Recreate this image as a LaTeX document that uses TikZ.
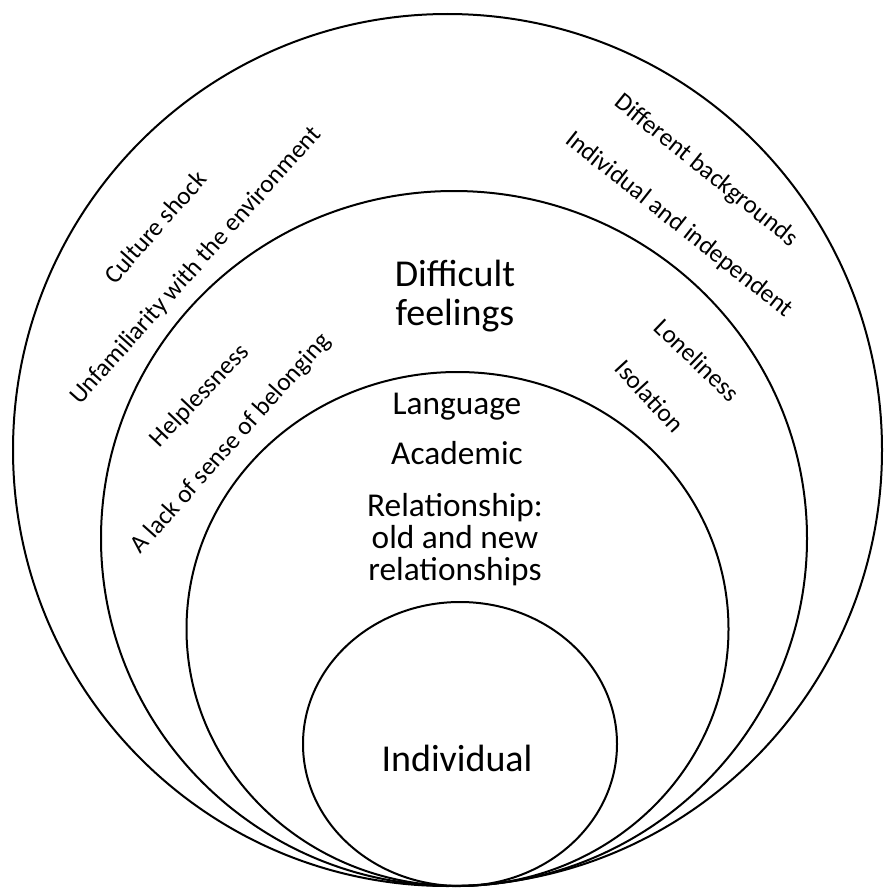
\documentclass[tikz,border=0pt]{standalone}
\usepackage{fontspec}
\setmainfont{Carlito}
\tikzset{
  ring/.style={line width=1.5pt},
  sidetext/.style={inner sep=0.75pt, font=\fontsize{19}{22}\selectfont},
  midtext/.style={inner sep=0.75pt, align=center, font=\fontsize{25}{24}\selectfont},
}
\begin{document}
\begin{tikzpicture}[x=0.75pt,y=0.75pt,yscale=-1,xscale=1]
\useasboundingbox (0,0) rectangle (885,892);
\draw[ring] (447.5,450) ellipse [x radius=434.5, y radius=436];
\draw[ring] (454,538.5) ellipse [x radius=353, y radius=347.5];
\draw[ring] (457.5,629) ellipse [x radius=271, y radius=257];
\draw[ring] (460,744) ellipse [x radius=157, y radius=142];
% Text Node
\draw (455,325) node (diff) [anchor=base] [inner sep=0.75pt, align=center, font=\fontsize{28.5}{29.25}\selectfont] {Difficult\\feelings};
% Text Node
\draw (457,414) node (lang) [anchor=base] [midtext] {Language};
% Text Node
\draw (457,464) node (acad) [anchor=base] [midtext] {Academic};
% Text Node
\draw (455,580) node (rel) [anchor=base] [midtext] {Relationship:\\old and new\\relationships};
% Text Node
\draw (457,771) node (indiv) [anchor=base] [inner sep=0.75pt, font=\fontsize{28.5}{30}\selectfont] {Individual};
% Text Node
\draw (155,227) node (shock) [rotate=48.5] [sidetext] {Culture shock};
% Text Node
\draw (196,266) node (unfam) [rotate=48.2] [sidetext] {Unfamiliarity with the environment};
% Text Node
\draw (200,396) node (help) [rotate=46.5] [sidetext] {Helplessness};
% Text Node
\draw (231,444) node (lack) [rotate=48.2] [sidetext] {A lack of sense of belonging};
% Text Node
\draw (706,171) node (backg) [rotate=-38.8] [sidetext] {Different backgrounds};
% Text Node
\draw (679,225) node (indep) [rotate=-38.4] [sidetext] {Individual and independent};
% Text Node
\draw (697,360) node (lone) [rotate=-44] [sidetext] {Loneliness};
% Text Node
\draw (650,396) node (isol) [rotate=-47.5] [sidetext] {Isolation};
\end{tikzpicture}
\end{document}
